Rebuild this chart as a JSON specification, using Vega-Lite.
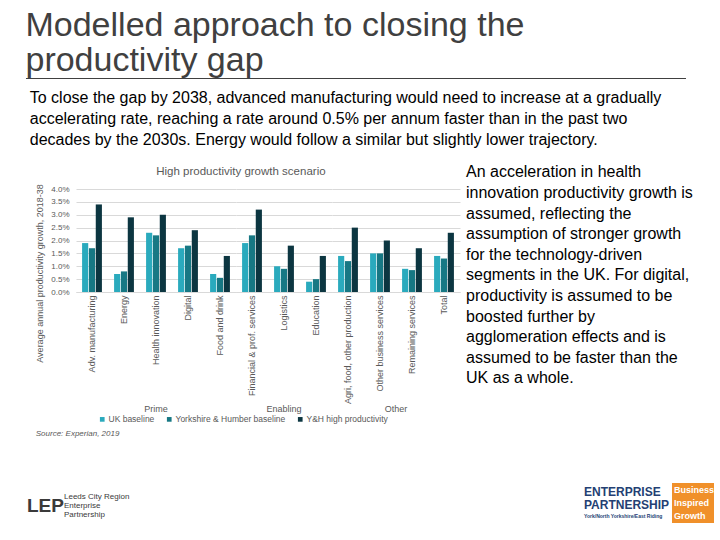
{
  "$schema": "https://vega.github.io/schema/vega-lite/v6.json",
  "background": "white",
  "padding": {"left": 25, "top": 9, "right": 0, "bottom": 0},
  "config": {
    "font": "Liberation Sans",
    "view": {"stroke": null},
    "title": {"font": "Liberation Sans"}
  },
  "title": {
    "text": ["Modelled approach to closing the", "productivity gap"],
    "anchor": "start", "fontSize": 34, "fontWeight": "normal", "color": "#404040",
    "lineHeight": 35, "offset": 0
  },
  "spacing": 11,
  "vconcat": [
    {
      "width": 610, "height": 1,
      "data": {"values": [{"s": 0, "e": 1}]},
      "mark": {"type": "rule", "color": "#404040", "strokeWidth": 1},
      "encoding": {
        "x": {"field": "s", "type": "quantitative", "scale": {"domain": [0.0758, 1], "clamp": false, "nice": false, "zero": false}, "axis": null},
        "x2": {"field": "e"}
      }
    },
    {
      "title": {
        "text": [
          "To close the gap by 2038, advanced manufacturing would need to increase at a gradually",
          "accelerating rate, reaching a rate around 0.5% per annum faster than in the past two",
          "decades by the 2030s. Energy would follow a similar but slightly lower trajectory."
        ],
        "anchor": "start", "fontSize": 16, "fontWeight": "normal", "color": "#000000",
        "lineHeight": 21, "dx": -6, "offset": 16
      },
      "spacing": 6,
      "hconcat": [
        {
          "title": {
            "text": "Source: Experian, 2019", "orient": "bottom", "anchor": "start",
            "fontSize": 8, "fontStyle": "italic", "fontWeight": "normal", "color": "#595959", "offset": -6
          },
          "resolve": {"scale": {"color": "independent"}, "legend": {"color": "independent"}},
          "vconcat": [
            {
              "title": {
                "text": "High productivity growth scenario", "fontSize": 11.5, "fontWeight": "normal",
                "color": "#595959", "anchor": "middle", "offset": 6, "dx": -7
              },
              "data": {
                "values": [
                  {"group": "Prime", "sector": "Adv. manufacturing", "series": "UK baseline", "value": 1.9},
                  {"group": "Prime", "sector": "Adv. manufacturing", "series": "Yorkshire & Humber baseline", "value": 1.7},
                  {"group": "Prime", "sector": "Adv. manufacturing", "series": "Y&H high productivity", "value": 3.4},
                  {"group": "Prime", "sector": "Energy", "series": "UK baseline", "value": 0.7},
                  {"group": "Prime", "sector": "Energy", "series": "Yorkshire & Humber baseline", "value": 0.8},
                  {"group": "Prime", "sector": "Energy", "series": "Y&H high productivity", "value": 2.9},
                  {"group": "Prime", "sector": "Health innovation", "series": "UK baseline", "value": 2.3},
                  {"group": "Prime", "sector": "Health innovation", "series": "Yorkshire & Humber baseline", "value": 2.2},
                  {"group": "Prime", "sector": "Health innovation", "series": "Y&H high productivity", "value": 3.0},
                  {"group": "Prime", "sector": "Digital", "series": "UK baseline", "value": 1.7},
                  {"group": "Prime", "sector": "Digital", "series": "Yorkshire & Humber baseline", "value": 1.8},
                  {"group": "Prime", "sector": "Digital", "series": "Y&H high productivity", "value": 2.4},
                  {"group": "Prime", "sector": "Food and drink", "series": "UK baseline", "value": 0.7},
                  {"group": "Prime", "sector": "Food and drink", "series": "Yorkshire & Humber baseline", "value": 0.55},
                  {"group": "Prime", "sector": "Food and drink", "series": "Y&H high productivity", "value": 1.4},
                  {"group": "Enabling", "sector": "Financial & prof. services", "series": "UK baseline", "value": 1.9},
                  {"group": "Enabling", "sector": "Financial & prof. services", "series": "Yorkshire & Humber baseline", "value": 2.2},
                  {"group": "Enabling", "sector": "Financial & prof. services", "series": "Y&H high productivity", "value": 3.2},
                  {"group": "Enabling", "sector": "Logistics", "series": "UK baseline", "value": 1.0},
                  {"group": "Enabling", "sector": "Logistics", "series": "Yorkshire & Humber baseline", "value": 0.9},
                  {"group": "Enabling", "sector": "Logistics", "series": "Y&H high productivity", "value": 1.8},
                  {"group": "Enabling", "sector": "Education", "series": "UK baseline", "value": 0.4},
                  {"group": "Enabling", "sector": "Education", "series": "Yorkshire & Humber baseline", "value": 0.5},
                  {"group": "Enabling", "sector": "Education", "series": "Y&H high productivity", "value": 1.4},
                  {"group": "Other", "sector": "Agri, food, other production", "series": "UK baseline", "value": 1.4},
                  {"group": "Other", "sector": "Agri, food, other production", "series": "Yorkshire & Humber baseline", "value": 1.2},
                  {"group": "Other", "sector": "Agri, food, other production", "series": "Y&H high productivity", "value": 2.5},
                  {"group": "Other", "sector": "Other business services", "series": "UK baseline", "value": 1.5},
                  {"group": "Other", "sector": "Other business services", "series": "Yorkshire & Humber baseline", "value": 1.5},
                  {"group": "Other", "sector": "Other business services", "series": "Y&H high productivity", "value": 2.0},
                  {"group": "Other", "sector": "Remaining services", "series": "UK baseline", "value": 0.9},
                  {"group": "Other", "sector": "Remaining services", "series": "Yorkshire & Humber baseline", "value": 0.85},
                  {"group": "Other", "sector": "Remaining services", "series": "Y&H high productivity", "value": 1.7},
                  {"group": "Other", "sector": "Total", "series": "UK baseline", "value": 1.4},
                  {"group": "Other", "sector": "Total", "series": "Yorkshire & Humber baseline", "value": 1.3},
                  {"group": "Other", "sector": "Total", "series": "Y&H high productivity", "value": 2.3}
                ]
              },
              "facet": {
                "column": {
                  "field": "group", "type": "nominal", "sort": ["Prime", "Enabling", "Other"],
                  "header": {"labelOrient": "bottom", "title": null, "labelFontSize": 9, "labelColor": "#595959", "labelPadding": 1}
                }
              },
              "spacing": 0,
              "resolve": {"scale": {"x": "independent", "xOffset": "independent"}},
              "spec": {
                "width": {"step": 32, "for": "position"},
                "height": 103,
                "mark": {"type": "bar"},
                "encoding": {
                  "x": {
                    "field": "sector", "type": "nominal", "sort": null,
                    "scale": {"paddingInner": 0.38, "paddingOuter": 0.19},
                    "axis": {"title": null, "labelAngle": -90, "labelFontSize": 9, "labelColor": "#595959", "ticks": false, "domainColor": "#d9d9d9", "labelPadding": 3, "labelLimit": 200}
                  },
                  "xOffset": {"field": "series", "sort": ["UK baseline", "Yorkshire & Humber baseline", "Y&H high productivity"], "scale": {"paddingInner": 0.1}},
                  "y": {
                    "field": "value", "type": "quantitative", "scale": {"domain": [0, 4]},
                    "axis": {
                      "values": [0, 0.5, 1, 1.5, 2, 2.5, 3, 3.5, 4],
                      "labelExpr": "format(datum.value, '.1f') + '%'",
                      "title": "Average annual productivity growth, 2018-38",
                      "titleFontSize": 9, "titleFontWeight": "normal", "titleColor": "#595959",
                      "labelFontSize": 8, "labelColor": "#595959", "domain": false, "ticks": false,
                      "labelPadding": 7, "gridColor": "#d9d9d9", "titlePadding": 6, "titleY": 84
                    }
                  },
                  "color": {
                    "field": "series", "type": "nominal",
                    "scale": {"domain": ["UK baseline", "Yorkshire & Humber baseline", "Y&H high productivity"], "range": ["#2aaabd", "#177884", "#0c3641"]},
                    "legend": {"orient": "bottom", "direction": "horizontal", "title": null, "symbolType": "square", "symbolSize": 22, "labelFontSize": 8.5, "labelColor": "#595959", "columnPadding": 0, "symbolOffset": 10, "labelOffset": 2, "padding": 12, "offset": -11}
                  }
                }
              }
            }
          ]
        },
        {
          "width": 245,
          "height": {"step": 20.6},
          "data": {
            "values": [
              {"line": 1, "text": "An acceleration in health"},
              {"line": 2, "text": "innovation productivity growth is"},
              {"line": 3, "text": "assumed, reflecting the"},
              {"line": 4, "text": "assumption of stronger growth"},
              {"line": 5, "text": "for the technology-driven"},
              {"line": 6, "text": "segments in the UK. For digital,"},
              {"line": 7, "text": "productivity is assumed to be"},
              {"line": 8, "text": "boosted further by"},
              {"line": 9, "text": "agglomeration effects and is"},
              {"line": 10, "text": "assumed to be faster than the"},
              {"line": 11, "text": "UK as a whole."}
            ]
          },
          "mark": {"type": "text", "align": "left", "baseline": "middle", "fontSize": 16, "color": "#000000", "dy": -27},
          "encoding": {
            "y": {"field": "line", "type": "ordinal", "axis": null},
            "x": {"datum": 0, "type": "quantitative", "scale": {"domain": [0, 1]}, "axis": null},
            "text": {"field": "text"}
          }
        }
      ]
    },
    {
      "title": {"text": "\u00a0", "fontSize": 34, "offset": 0, "anchor": "start"},
      "spacing": 378,
      "hconcat": [
        {
          "width": 130, "height": 27,
          "layer": [
            {
              "data": {"values": [{"t": "LEP"}]},
              "mark": {"type": "text", "align": "left", "baseline": "middle", "fontSize": 19, "fontWeight": "bold", "font": "Liberation Sans Narrow, Liberation Sans", "color": "#3a3a3a", "dx": -49, "dy": 9},
              "encoding": {
                "x": {"datum": 0, "type": "quantitative", "scale": {"domain": [0, 1]}, "axis": null},
                "text": {"field": "t"}
              }
            },
            {
              "data": {"values": [{"line": 1, "t": "Leeds City Region"}, {"line": 2, "t": "Enterprise"}, {"line": 3, "t": "Partnership"}]},
              "mark": {"type": "text", "align": "left", "baseline": "middle", "fontSize": 8, "color": "#3a3a3a", "dx": -12, "dy": 9},
              "encoding": {
                "x": {"datum": 0, "type": "quantitative", "scale": {"domain": [0, 1]}, "axis": null},
                "y": {"field": "line", "type": "ordinal", "axis": null},
                "text": {"field": "t"}
              }
            }
          ]
        },
        {
          "spacing": 2,
          "hconcat": [
            {
              "width": 76, "height": 39,
              "layer": [
                {
                  "data": {"values": [{"line": 1, "t": "ENTERPRISE"}, {"line": 2, "t": "PARTNERSHIP"}]},
                  "mark": {"type": "text", "align": "left", "baseline": "middle", "fontSize": 12, "fontWeight": "bold", "font": "Liberation Sans Narrow, Liberation Sans", "color": "#243f73", "dy": 2.5},
                  "encoding": {
                    "x": {"datum": 0, "type": "quantitative", "scale": {"domain": [0, 1]}, "axis": null},
                    "y": {"field": "line", "type": "ordinal", "scale": {"domain": [1, 2, 3]}, "axis": null},
                    "text": {"field": "t"}
                  }
                },
                {
                  "data": {"values": [{"line": 3, "t": "York/North Yorkshire/East Riding"}]},
                  "mark": {"type": "text", "align": "left", "baseline": "middle", "fontSize": 5, "fontWeight": "bold", "font": "Liberation Sans Narrow, Liberation Sans", "color": "#243f73", "dy": 0},
                  "encoding": {
                    "x": {"datum": 0, "type": "quantitative", "scale": {"domain": [0, 1]}, "axis": null},
                    "y": {"field": "line", "type": "ordinal", "scale": {"domain": [1, 2, 3]}, "axis": null},
                    "text": {"field": "t"}
                  }
                }
              ]
            },
            {
              "width": 42, "height": 40,
              "view": {"fill": "#f0902a", "stroke": null},
              "data": {"values": [{"line": 1, "t": "Business"}, {"line": 2, "t": "Inspired"}, {"line": 3, "t": "Growth"}]},
              "mark": {"type": "text", "align": "left", "baseline": "middle", "fontSize": 9, "fontWeight": "bold", "font": "Liberation Sans Narrow, Liberation Sans", "color": "white", "dx": 2},
              "encoding": {
                "x": {"datum": 0, "type": "quantitative", "scale": {"domain": [0, 1]}, "axis": null},
                "y": {"field": "line", "type": "ordinal", "axis": null},
                "text": {"field": "t"}
              }
            }
          ]
        }
      ]
    }
  ]
}
